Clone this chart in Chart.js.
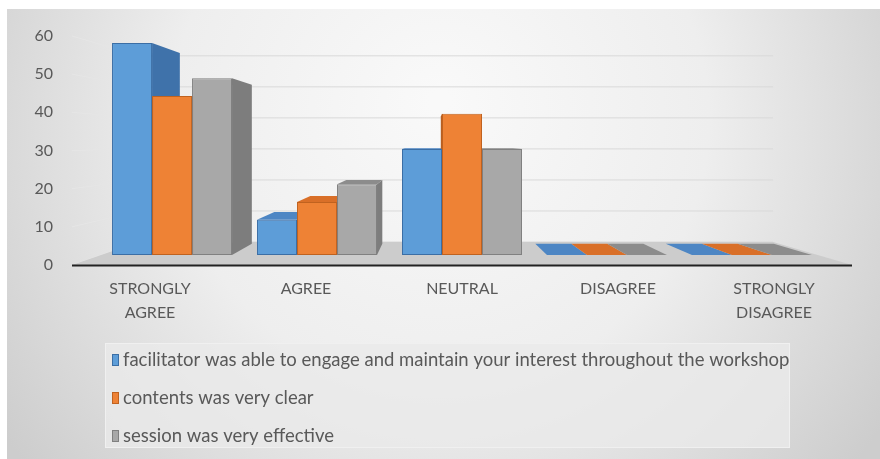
<!DOCTYPE html>
<html><head><meta charset="utf-8">
<script src="https://cdn.jsdelivr.net/npm/chart.js@4/dist/chart.umd.min.js"></script>
<style>html,body{margin:0;padding:0;background:#fff;}#wrap{width:880px;height:459px;position:relative;}</style>
</head><body><div id="wrap"><canvas id="c"></canvas></div>
<script>
// ---- data ----
const categories = [['STRONGLY','AGREE'], 'AGREE', 'NEUTRAL', 'DISAGREE', ['STRONGLY','DISAGREE']];
const seriesNames = [
  'facilitator was able to engage and maintain your interest throughout the workshop',
  'contents was very clear',
  'session was very effective'
];
const facilitatorValues = [60, 10, 30, 0, 0];
const contentsValues    = [45, 15, 40, 0, 0];
const sessionValues     = [50, 20, 30, 0, 0];
const yTickValues = [0, 10, 20, 30, 40, 50, 60];

// ---- styles ----
const styles = [
  {front:'#5d9dd8', side:'#3f72aa', top:'#4d86c4', border:'#3b6ea5'},
  {front:'#ee8235', side:'#b85f22', top:'#d96f28', border:'#c0621f'},
  {front:'#a8a8a8', side:'#7d7d7d', top:'#8c8c8c', border:'#808080'}
];
const TEXT = '#595959';
const FONT = 'Lato, "Open Sans", sans-serif';
const BAR_DEPTH = 0.1, WALL_DEPTH = 0.187;

function vanish(a){ return {x: a.left + 0.459*(a.right-a.left), y: a.top + 0.463*(a.bottom-a.top)}; }
function toward(v, x, y, k){ return [x + k*(v.x-x), y + k*(v.y-y)]; }
function poly(ctx, pts, fill){ ctx.beginPath(); ctx.moveTo(pts[0][0], pts[0][1]); for (let i=1;i<pts.length;i++) ctx.lineTo(pts[i][0], pts[i][1]); ctx.closePath(); ctx.fillStyle = fill; ctx.fill(); }

const bgPlugin = {
  id:'bg',
  beforeDraw(chart){
    const ctx = chart.ctx, W = chart.width, H = chart.height;
    ctx.save();
    ctx.fillStyle = '#ffffff'; ctx.fillRect(0,0,W,H);
    const g = ctx.createRadialGradient(W*0.5, H*0.22, 10, W*0.5, H*0.3, W*0.6);
    g.addColorStop(0, '#f9f9f9');
    g.addColorStop(0.5, '#eeeeee');
    g.addColorStop(1, '#cdcdcd');
    ctx.fillStyle = g; ctx.fillRect(7, 9, W-7, H-9);
    ctx.restore();
  }
};

const depthPlugin = {
  id:'depth3d',
  beforeDatasetsDraw(chart){
    const ctx = chart.ctx, a = chart.chartArea, v = vanish(a), ys = chart.scales.y;
    ctx.save();
    ctx.lineWidth = 1;
    ys.ticks.forEach(t => {
      const y = ys.getPixelForValue(t.value);
      const b = toward(v, a.left, y, WALL_DEPTH), r = toward(v, a.right, y, WALL_DEPTH);
      ctx.strokeStyle = '#e6e6e6';
      ctx.beginPath(); ctx.moveTo(a.left, y); ctx.lineTo(b[0], b[1]); ctx.stroke();
      ctx.strokeStyle = '#d9d9d9';
      ctx.beginPath(); ctx.moveTo(b[0], b[1]); ctx.lineTo(r[0], b[1]); ctx.stroke();
    });
    const y0 = ys.getPixelForValue(0);
    poly(ctx, [[a.left,y0],[a.right,y0],toward(v,a.right,y0,WALL_DEPTH),toward(v,a.left,y0,WALL_DEPTH)], '#cccccc');
    ctx.strokeStyle = '#222'; ctx.lineWidth = 2;
    ctx.beginPath(); ctx.moveTo(a.left, y0+0.5); ctx.lineTo(a.right, y0+0.5); ctx.stroke();
    chart.data.datasets.forEach((ds, di) => {
      const st = styles[di];
      chart.getDatasetMeta(di).data.forEach(bar => {
        const l = bar.x - bar.width/2, r = bar.x + bar.width/2;
        const t = Math.min(bar.y, bar.base), b = Math.max(bar.y, bar.base);
        if (r < v.x) poly(ctx, [[r,t], toward(v,r,t,BAR_DEPTH), toward(v,r,b,BAR_DEPTH), [r,b]], st.side);
        if (l > v.x) poly(ctx, [[l,t], toward(v,l,t,BAR_DEPTH), toward(v,l,b,BAR_DEPTH), [l,b]], st.side);
        if (t > v.y) poly(ctx, [[l,t],[r,t], toward(v,r,t,BAR_DEPTH), toward(v,l,t,BAR_DEPTH)], st.top);
      });
    });
    ctx.restore();
  }
};

const legendPlugin = {
  id:'boxLegend',
  afterDraw(chart){
    const ctx = chart.ctx;
    const box = {l:105, t:343, r:790, b:448};
    ctx.save();
    ctx.fillStyle = 'rgba(234,234,234,0.8)';
    ctx.fillRect(box.l, box.t, box.r-box.l, box.b-box.t);
    ctx.strokeStyle = '#f0f0f0'; ctx.lineWidth = 1;
    ctx.strokeRect(box.l+0.5, box.t+0.5, box.r-box.l-1, box.b-box.t-1);
    ctx.font = '18.5px ' + FONT; ctx.textBaseline = 'middle'; ctx.textAlign = 'left';
    chart.data.datasets.forEach((ds, i) => {
      const cy = 360 + i*38;
      ctx.fillStyle = ds.backgroundColor; ctx.fillRect(112, cy-6, 7, 12);
      ctx.strokeStyle = ds.borderColor; ctx.strokeRect(112.5, cy-5.5, 6, 11);
      ctx.fillStyle = TEXT; ctx.fillText(ds.label, 123, cy);
    });
    ctx.restore();
  }
};

const seriesValues = [facilitatorValues, contentsValues, sessionValues];
const datasets = seriesValues.map((vals, i) => ({
  label: seriesNames[i],
  data: vals.map((v, k) => ({x:k, y:v})),
  xAxisID:'xb', yAxisID:'yb',
  backgroundColor: styles[i].front,
  borderColor: styles[i].border,
  borderWidth: 1,
  borderSkipped: false,
  categoryPercentage: 0.8276,
  barPercentage: 1
}));

new Chart(document.getElementById('c'), {
  type:'bar',
  data:{ labels: categories, datasets },
  options:{
    responsive:true, maintainAspectRatio:false, animation:false,
    layout:{ padding:{left:0, right:28, top:36, bottom:0} },
    plugins:{ legend:{display:false}, tooltip:{enabled:false} },
    scales:{
      x:{ type:'category', position:'bottom', offset:true,
          grid:{display:false, drawTicks:false}, border:{display:false},
          ticks:{ color:TEXT, font:{family:FONT, size:16, lineHeight:1.5}, padding:12, maxRotation:0, autoSkip:false },
          afterFit(s){ s.height = 459 - 265; } },
      xb:{ type:'linear', display:false, offset:false, min:-0.69, max:4.69,
           afterBuildTicks(s){ s.ticks = categories.map((c, i) => ({value:i})); } },
      y:{ type:'linear', position:'left', min:0, max:60,
          afterBuildTicks(s){ s.ticks = yTickValues.map(v => ({value:v})); },
          grid:{display:false, drawTicks:false}, border:{display:false},
          ticks:{ color:TEXT, font:{family:FONT, size:16}, padding:19 },
          afterFit(s){ s.width = 72; } },
      yb:{ type:'linear', display:false, min:-2.83, max:61.98 }
    }
  },
  plugins:[bgPlugin, depthPlugin, legendPlugin]
});
</script></body></html>
